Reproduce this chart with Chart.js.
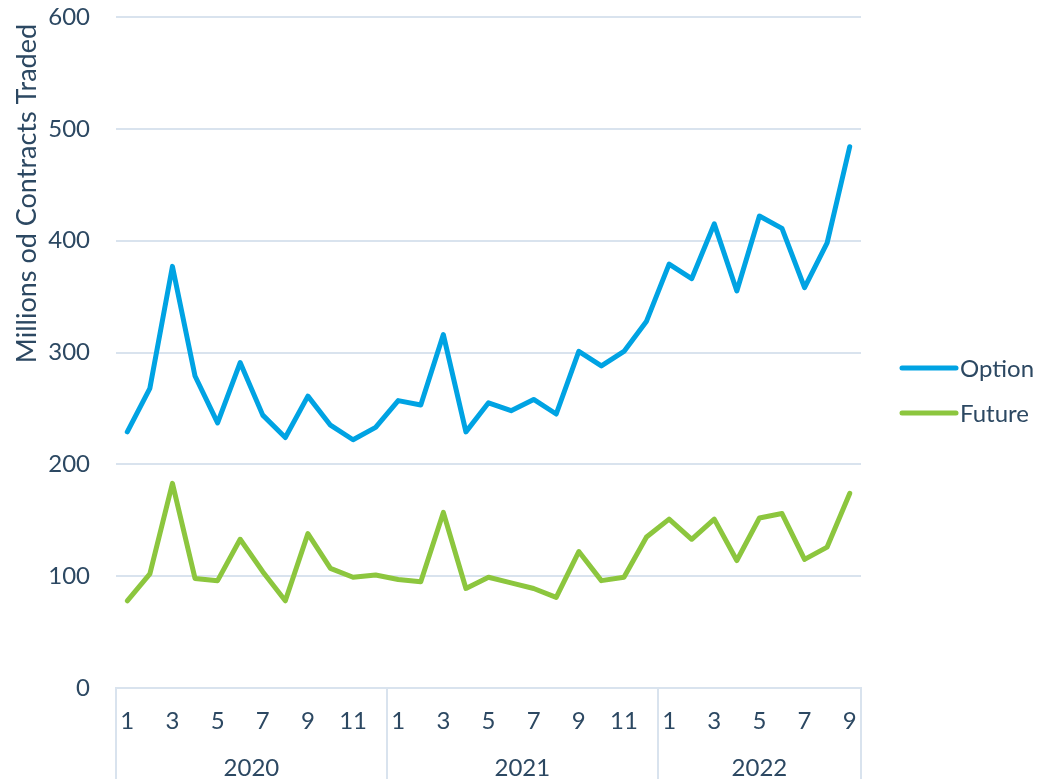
<!DOCTYPE html>
<html>
<head>
<meta charset="utf-8">
<script src="https://cdn.jsdelivr.net/npm/chart.js@4.4.1/dist/chart.umd.min.js"></script>
<style>
html,body{margin:0;padding:0;background:#fff;}
#wrap{width:1038px;height:779px;position:relative;}
</style>
</head>
<body>
<div id="wrap"><canvas id="c" width="1038" height="779"></canvas></div>
<script>
const years = ['2020', '2021', '2022'];
const monthsPerYear = [12, 12, 9];
const months = ['1','2','3','4','5','6','7','8','9','10','11','12',
                '1','2','3','4','5','6','7','8','9','10','11','12',
                '1','2','3','4','5','6','7','8','9'];
const optionValues = [229, 268, 377, 279, 237, 291, 244, 224, 261, 235, 222, 233,
                      257, 253, 316, 229, 255, 248, 258, 245, 301, 288, 301, 328,
                      379, 366, 415, 355, 422, 411, 358, 398, 484];
const futureValues = [78, 102, 183, 98, 96, 133, 104, 78, 138, 107, 99, 101,
                      97, 95, 157, 89, 99, 94, 89, 81, 122, 96, 99, 135,
                      151, 133, 151, 114, 152, 156, 115, 126, 174];
const yTicks = [0, 100, 200, 300, 400, 500, 600];
const seriesNames = ['Option', 'Future'];
const yTitle = 'Millions od Contracts Traded';

const TEXT = '#2c4862';
const GRID = '#d9e3ee';
const FONT = 'Lato, "Noto Sans", sans-serif';
const FS = 24;

const yearCenters = [];
let acc = 0;
monthsPerYear.forEach(n => { yearCenters.push(acc + (n - 1) / 2); acc += n; });

const legendPlugin = {
  id: 'sideLegend',
  afterDraw(chart) {
    const ctx = chart.ctx;
    const items = chart.data.datasets;
    const x0 = 902, x1 = 956;
    const ys = [368, 413];
    ctx.save();
    items.forEach((ds, i) => {
      ctx.strokeStyle = ds.borderColor;
      ctx.lineWidth = 5;
      ctx.lineCap = 'round';
      ctx.beginPath();
      ctx.moveTo(x0, ys[i]);
      ctx.lineTo(x1, ys[i]);
      ctx.stroke();
      ctx.fillStyle = TEXT;
      ctx.font = FS + 'px ' + FONT;
      ctx.textBaseline = 'middle';
      ctx.textAlign = 'left';
      ctx.fillText(ds.label, 960, ys[i] + 1);
    });
    ctx.restore();
  }
};

const isBoundary = (c) => c.index === undefined || c.index % 12 === 0;

new Chart(document.getElementById('c'), {
  type: 'line',
  data: {
    labels: months,
    datasets: [
      { label: seriesNames[0], data: optionValues, borderColor: '#00a3e3', backgroundColor: '#00a3e3',
        borderWidth: 5, pointRadius: 0, tension: 0, borderJoinStyle: 'round', borderCapStyle: 'round', xAxisID: 'x' },
      { label: seriesNames[1], data: futureValues, borderColor: '#8cc63e', backgroundColor: '#8cc63e',
        borderWidth: 5, pointRadius: 0, tension: 0, borderJoinStyle: 'round', borderCapStyle: 'round', xAxisID: 'x' }
    ]
  },
  options: {
    responsive: false,
    animation: false,
    layout: { padding: { left: 0, right: 177, top: 17, bottom: 0 } },
    plugins: { legend: { display: false }, tooltip: { enabled: false } },
    scales: {
      x: {
        type: 'category',
        position: 'bottom',
        weight: 0,
        offset: true,
        grid: {
          offset: true,
          drawOnChartArea: false,
          drawTicks: true,
          tickLength: 91,
          lineWidth: 2,
          color: (c) => isBoundary(c) ? GRID : 'rgba(0,0,0,0)',
          tickColor: (c) => isBoundary(c) ? GRID : 'rgba(0,0,0,0)'
        },
        border: { display: true, color: GRID, width: 2 },
        ticks: {
          autoSkip: false, maxRotation: 0, minRotation: 0,
          padding: -72,
          color: TEXT, font: { family: FONT, size: FS },
          callback: function(v, i) { return (i % 12) % 2 === 0 ? months[i] : ''; }
        },
        afterFit: (s) => { s.height = 46; s.paddingLeft = 0; s.paddingRight = 0; }
      },
      years: {
        type: 'linear',
        position: 'bottom',
        weight: 1,
        min: -0.5,
        max: months.length - 0.5,
        grid: { display: false, drawTicks: false },
        border: { display: false },
        afterBuildTicks: (s) => { s.ticks = yearCenters.map(v => ({ value: v })); },
        ticks: {
          autoSkip: false, maxRotation: 0, padding: 20,
          color: TEXT, font: { family: FONT, size: FS },
          callback: (v) => { const k = yearCenters.indexOf(v); return k >= 0 ? years[k] : ''; }
        },
        afterFit: (s) => { s.height = 45; s.paddingLeft = 0; s.paddingRight = 0; }
      },
      y: {
        min: 0, max: 600,
        afterBuildTicks: (s) => { s.ticks = yTicks.map(v => ({ value: v })); },
        grid: { color: GRID, lineWidth: 2, drawTicks: false },
        border: { display: false },
        ticks: { padding: 26, color: TEXT, font: { family: FONT, size: FS } },
        title: { display: true, text: yTitle + ' ', align: 'end', color: TEXT,
                 font: { family: FONT, size: 27 }, padding: { top: 11, bottom: 4 } },
        afterFit: (s) => { s.width = 116; s.paddingTop = 0; s.paddingBottom = 0; }
      }
    }
  },
  plugins: [legendPlugin]
});
</script>
</body>
</html>
